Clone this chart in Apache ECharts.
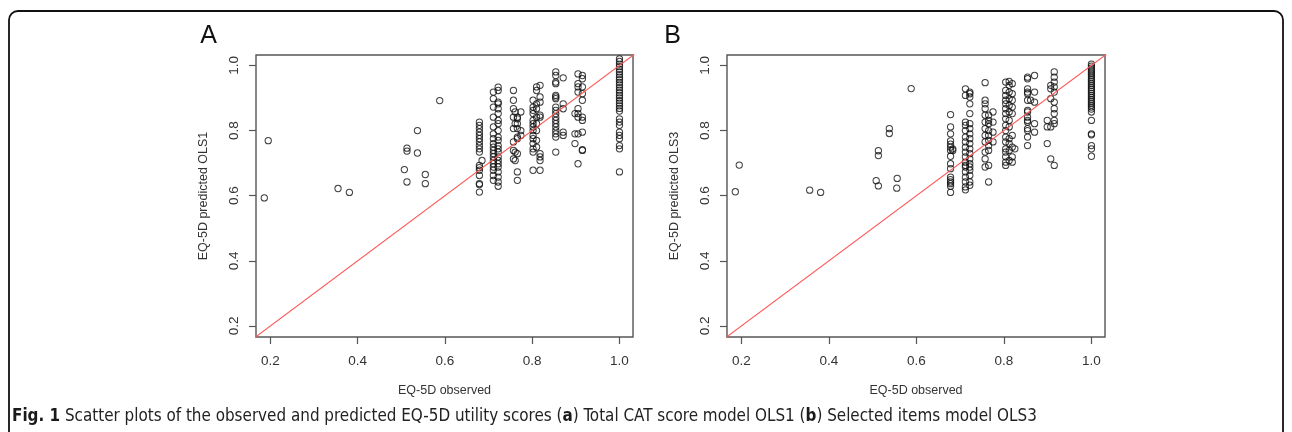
<!DOCTYPE html>
<html><head><meta charset="utf-8">
<script src="https://cdn.jsdelivr.net/npm/echarts@6/dist/echarts.min.js"></script>
<style>html,body{margin:0;padding:0;background:#fff;}#c{width:1292px;height:432px;}</style>
</head><body><div id="c"></div>
<script>
// ---- tick labels / reference line ----
const xTicks = [0.2, 0.4, 0.6, 0.8, 1.0];
const yTicks = [0.2, 0.4, 0.6, 0.8, 1.0];
const diagonal = [0.1, 1.1];
const panelLetters = ['A', 'B'];
const yTitles = ['EQ-5D predicted OLS1', 'EQ-5D predicted OLS3'];
const xTitle = 'EQ-5D observed';

// ---- Panel A: observed value (column) and predicted OLS1 values ----
const obsColsA = [0.186, 0.195, 0.355, 0.381, 0.507, 0.513, 0.537, 0.555, 0.588,
  0.679, 0.685, 0.711, 0.722, 0.757, 0.761, 0.766, 0.774, 0.802, 0.810, 0.818,
  0.854, 0.871, 0.898, 0.905, 0.915, 1.0];
const predColsA = [
  [0.593], [0.769], [0.622], [0.610], [0.680], [0.642, 0.746, 0.737], [0.800, 0.731], [0.665, 0.637], [0.892],
  [0.826, 0.816, 0.806, 0.795, 0.785, 0.775, 0.765, 0.754, 0.744, 0.734, 0.693, 0.686, 0.678, 0.662, 0.637, 0.634, 0.611],
  [0.708],
  [0.918, 0.898, 0.872, 0.841, 0.811, 0.790, 0.775, 0.760, 0.749, 0.739, 0.729, 0.719, 0.708, 0.698, 0.688, 0.678, 0.662, 0.647],
  [0.933, 0.923, 0.887, 0.882, 0.867, 0.852, 0.831, 0.821, 0.800, 0.780, 0.770, 0.754, 0.744, 0.734, 0.719, 0.708, 0.698, 0.688, 0.673, 0.657, 0.642, 0.629],
  [0.923, 0.893, 0.867, 0.841, 0.806, 0.765, 0.739, 0.713],
  [0.857, 0.821, 0.734, 0.708],
  [0.841, 0.836, 0.821, 0.806, 0.775, 0.780, 0.729, 0.673, 0.647],
  [0.857, 0.800, 0.785],
  [0.893, 0.872, 0.862, 0.852, 0.831, 0.821, 0.811, 0.800, 0.785, 0.775, 0.760, 0.744, 0.734, 0.678],
  [0.934, 0.923, 0.882, 0.867, 0.841, 0.821, 0.800, 0.770, 0.749],
  [0.939, 0.903, 0.887, 0.847, 0.841, 0.729, 0.719, 0.708, 0.678],
  [0.980, 0.969, 0.949, 0.944, 0.908, 0.903, 0.898, 0.872, 0.862, 0.852, 0.841, 0.831, 0.821, 0.811, 0.800, 0.790, 0.780, 0.734],
  [0.962, 0.882, 0.867, 0.795, 0.785],
  [0.852, 0.790, 0.760],
  [0.974, 0.944, 0.934, 0.918, 0.867, 0.852, 0.841, 0.790, 0.698],
  [0.969, 0.959, 0.934, 0.913, 0.893, 0.841, 0.831, 0.795, 0.739, 0.741],
  [1.020, 1.012, 1.004, 0.996, 0.988, 0.980, 0.972, 0.964, 0.956, 0.948, 0.940, 0.932, 0.924, 0.916, 0.908, 0.900,
   0.892, 0.884, 0.876, 0.868, 0.860, 0.836, 0.826, 0.816, 0.795, 0.785, 0.775, 0.754, 0.744, 0.673]
];

// ---- Panel B: observed value (column) and predicted OLS3 values ----
const obsColsB = [0.186, 0.195, 0.356, 0.381, 0.508, 0.513, 0.538, 0.555, 0.556, 0.588,
  0.678, 0.683, 0.712, 0.722, 0.757, 0.765, 0.775, 0.804, 0.812, 0.819, 0.825,
  0.854, 0.861, 0.870, 0.899, 0.907, 0.915, 1.0];
const predColsB = [
  [0.612], [0.694], [0.617], [0.610], [0.646], [0.630, 0.738, 0.723], [0.806, 0.791], [0.623], [0.653], [0.929],
  [0.849, 0.811, 0.790, 0.768, 0.758, 0.749, 0.739, 0.721, 0.698, 0.683, 0.657, 0.649, 0.642, 0.637, 0.629, 0.610],
  [0.744, 0.739],
  [0.928, 0.908, 0.826, 0.816, 0.800, 0.780, 0.765, 0.749, 0.734, 0.719, 0.703, 0.693, 0.688, 0.673, 0.657, 0.642, 0.627, 0.618],
  [0.918, 0.913, 0.903, 0.882, 0.852, 0.821, 0.806, 0.790, 0.775, 0.760, 0.744, 0.729, 0.713, 0.698, 0.688, 0.678, 0.662, 0.642, 0.632],
  [0.947, 0.893, 0.882, 0.867, 0.847, 0.826, 0.806, 0.785, 0.765, 0.734, 0.713, 0.688],
  [0.847, 0.831, 0.821, 0.800, 0.785, 0.770, 0.754, 0.739, 0.693, 0.642],
  [0.857, 0.826, 0.795, 0.765],
  [0.949, 0.923, 0.908, 0.893, 0.882, 0.867, 0.852, 0.836, 0.816, 0.800, 0.780, 0.765, 0.744, 0.734, 0.719, 0.703, 0.693],
  [0.951, 0.939, 0.918, 0.898, 0.877, 0.857, 0.831, 0.811, 0.775, 0.760, 0.739, 0.708],
  [0.944, 0.913, 0.893, 0.872, 0.852, 0.785, 0.749, 0.719, 0.703],
  [0.744],
  [0.964, 0.959, 0.928, 0.918, 0.913, 0.893, 0.862, 0.857, 0.841, 0.831, 0.826, 0.806, 0.800, 0.780, 0.754],
  [0.893],
  [0.969, 0.918, 0.887, 0.821, 0.795],
  [0.831, 0.811, 0.760],
  [0.939, 0.928, 0.898, 0.811, 0.713],
  [0.980, 0.964, 0.949, 0.934, 0.918, 0.887, 0.867, 0.852, 0.831, 0.821, 0.693],
  [1.004, 0.998, 0.992, 0.986, 0.980, 0.974, 0.968, 0.962, 0.956, 0.950, 0.944, 0.938, 0.932, 0.926, 0.920, 0.914,
   0.908, 0.902, 0.896, 0.890, 0.884, 0.878, 0.872, 0.866, 0.857, 0.831, 0.790, 0.787, 0.754, 0.744, 0.721]
];

function flatten(xs, yss) {
  const out = [];
  xs.forEach((x, i) => yss[i].forEach(y => out.push([x, y])));
  return out;
}
const ptsA = flatten(obsColsA, predColsA);
const ptsB = flatten(obsColsB, predColsB);

const FONT = "'Liberation Sans', Arial, sans-serif";
const CAPFONT = "'Liberation Sans Narrow', 'DejaVu Sans Condensed', sans-serif";
const grids = [
  { left: 256, top: 55, width: 377, height: 282 },
  { left: 727, top: 55, width: 378, height: 282 }
];

function xAx(i) {
  return {
    type: 'value', gridIndex: i, min: 0.167, max: 1.031,
    name: xTitle, nameLocation: 'middle', nameGap: 47,
    nameTextStyle: { fontSize: 12.5, color: '#333', fontFamily: FONT },
    axisLine: { show: false }, splitLine: { show: false },
    axisTick: { show: true, length: 7, customValues: xTicks, lineStyle: { color: '#555', width: 1.2 } },
    axisLabel: { customValues: xTicks, formatter: v => v.toFixed(1), fontSize: 13.5, color: '#333', margin: 17, fontFamily: FONT }
  };
}
function yAx(i) {
  return {
    type: 'value', gridIndex: i, min: 0.166, max: 1.032,
    name: yTitles[i], nameLocation: 'middle', nameGap: 46,
    nameTextStyle: { fontSize: 12.5, color: '#333', fontFamily: FONT },
    axisLine: { show: false }, splitLine: { show: false },
    axisTick: { show: true, length: 7, customValues: yTicks, lineStyle: { color: '#555', width: 1.2 } },
    axisLabel: { customValues: yTicks, formatter: v => v.toFixed(1), rotate: 90, fontSize: 13.5, color: '#333', margin: 15, fontFamily: FONT }
  };
}
function scatter(i, data) {
  return {
    type: 'scatter', xAxisIndex: i, yAxisIndex: i, data: data,
    symbol: 'circle', symbolSize: 6.3, silent: true,
    itemStyle: { color: 'rgba(255,255,255,0)', borderColor: '#111', borderWidth: 1 },
    emphasis: { disabled: true }
  };
}
function diag(i) {
  return {
    type: 'line', xAxisIndex: i, yAxisIndex: i, data: diagonal.map(v => [v, v]),
    showSymbol: false, clip: true, silent: true,
    lineStyle: { color: '#ff5555', width: 1.1 }
  };
}

const chart = echarts.init(document.getElementById('c'), null, { renderer: 'canvas' });
chart.setOption({
  animation: false,
  backgroundColor: '#fff',
  grid: grids.map(g => Object.assign({ show: true, borderColor: '#555', borderWidth: 1.4, backgroundColor: 'transparent' }, g)),
  xAxis: [xAx(0), xAx(1)],
  yAxis: [yAx(0), yAx(1)],
  series: [scatter(0, ptsA), diag(0), scatter(1, ptsB), diag(1)],
  graphic: [
    { type: 'rect', shape: { x: 9, y: 11, width: 1274, height: 470, r: 9 }, style: { fill: 'none', stroke: '#111', lineWidth: 1.8 }, silent: true },
    { type: 'text', x: 208.5, y: 36, style: { text: panelLetters[0], fontSize: 25, fontFamily: FONT, fill: '#111', align: 'center', verticalAlign: 'middle' } },
    { type: 'text', x: 672.5, y: 36, style: { text: panelLetters[1], fontSize: 25, fontFamily: FONT, fill: '#111', align: 'center', verticalAlign: 'middle' } },
    { type: 'text', x: 12, y: 417, style: {
        text: '{b|Fig. 1} Scatter plots of the observed and predicted EQ-5D utility scores ({b|a}) Total CAT score model OLS1 ({b|b}) Selected items model OLS3',
        fontSize: 16.9, fontFamily: CAPFONT, fill: '#222', verticalAlign: 'middle',
        rich: { b: { fontWeight: 'bold', fontSize: 16.9, fill: '#1a1a1a', fontFamily: CAPFONT } }
    } }
  ]
});
</script></body></html>
